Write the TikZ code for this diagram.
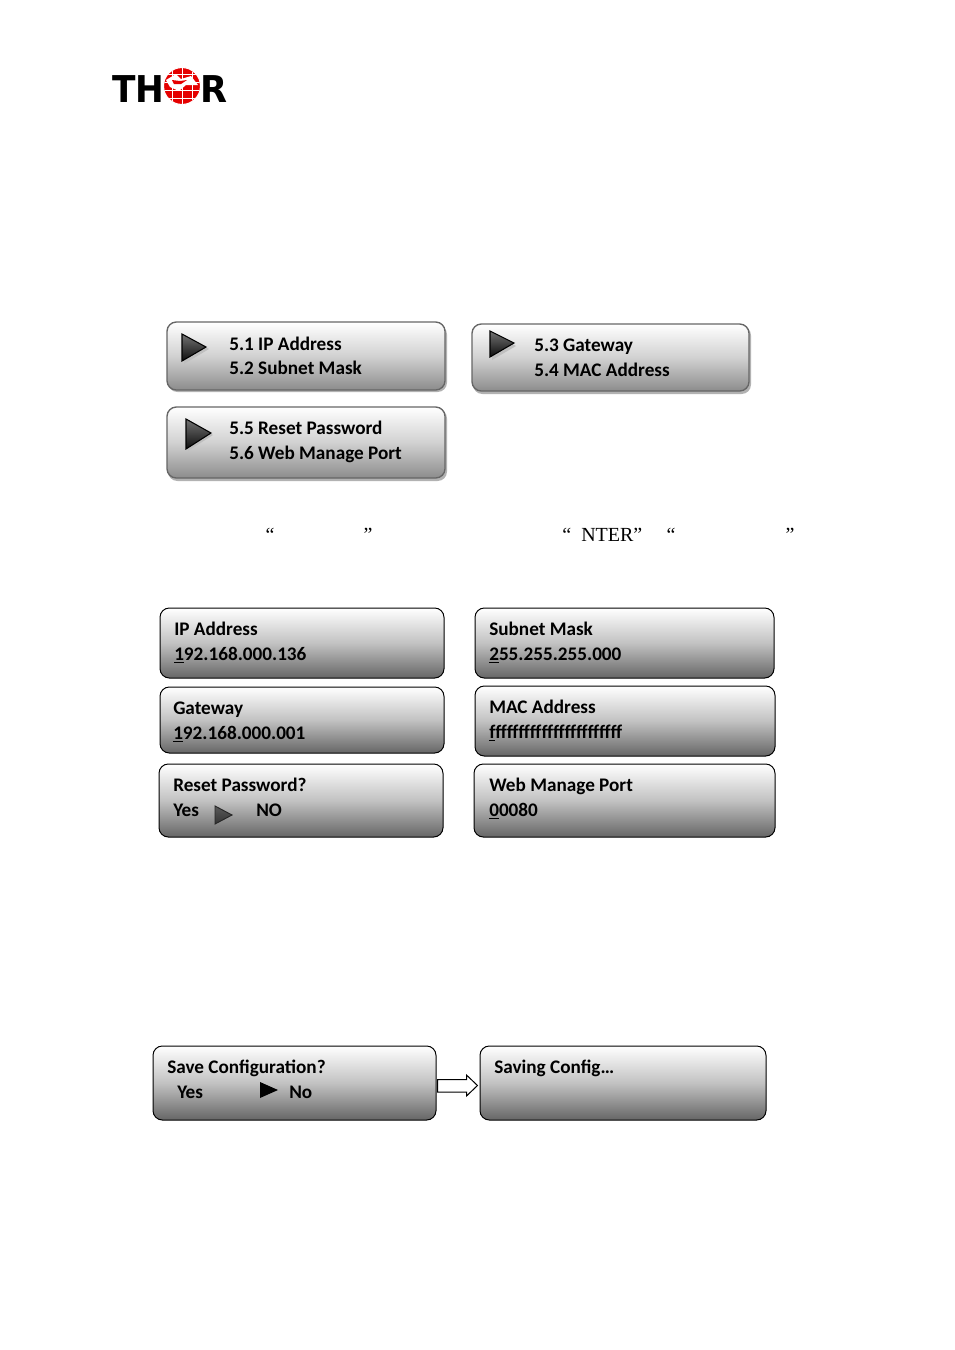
\documentclass[tikz,border=0pt]{standalone}
\usepackage{fontspec}
\setmainfont{Carlito}
\newfontfamily\serif{Liberation Serif}
\newfontfamily\logofont{DejaVu Sans}
\usetikzlibrary{calc}
\tikzset{
 x=0.75pt,y=-0.75pt,
 panel/.style={rectangle,rounded corners=7pt,draw=black,line width=0.75pt,top color=white,bottom color=black!60,middle color=black!24,inner sep=0pt},
 softpanel/.style={rectangle,rounded corners=7pt,draw=black!60,line width=1pt,top color=white,bottom color=black!45,middle color=black!18,inner sep=0pt},
 shadowbox/.style={rectangle,rounded corners=7pt,fill=black!30,draw=none,inner sep=0pt},
 txt/.style={anchor=base west,inner sep=0pt,font=\bfseries\fontsize{14.4pt}{16pt}\selectfont,text=black},
 quo/.style={anchor=base,inner sep=0pt,font=\serif\fontsize{15pt}{18pt}\selectfont,text=black},
 tri/.style={top color=black!55,bottom color=black!95,draw=black,line width=0.8pt},
 trishadow/.style={fill=black!25},
 logo/.style={inner sep=0pt,font=\logofont\bfseries\fontsize{27.7pt}{30pt}\selectfont},
}
\newcommand{\panelat}[6]{% name, x1, y1, x2, y2, style
 \node[#6,minimum width=#4*0.75pt-#2*0.75pt,minimum height=#5*0.75pt-#3*0.75pt] (#1) at ({(#2+#4)/2},{(#3+#5)/2}) {};}
\begin{document}
\begin{tikzpicture}
\useasboundingbox (0,0) rectangle (954,1350);
% logo
\node[logo,anchor=base west,xscale=0.93] (lt) at (112,102) {TH};
\node[logo,anchor=base west,xscale=0.95] (lr) at (200,102) {R};
\fill[red!90!black,draw=white,line width=0.8pt] (182,86) circle (18.5);
\begin{scope}
\clip (182,86) circle (18);
\foreach \dx in {-10,0,10} \draw[white,line width=0.4pt] (182+\dx,66) -- (182+\dx,106);
\foreach \dy in {-12,-4,4,12} \draw[white,line width=0.4pt] (162,86+\dy) -- (202,86+\dy);
\fill[white] (166,80) -- (176,74) -- (181,79) -- (191,76) -- (198,85) -- (186,85) -- (179,91) -- (170,87) -- cycle;
\fill[red!90!black] (172,80) -- (180,81) -- (187,80) -- (181,84) -- (174,84) -- cycle;
\end{scope}
% top menus
\panelat{sa}{168}{325}{447}{392}{shadowbox}
\panelat{a}{167}{322}{445}{390}{softpanel}
\panelat{sb}{473}{326}{751}{394}{shadowbox}
\panelat{b}{472}{324}{749}{391}{softpanel}
\panelat{sc}{168}{409}{447}{481}{shadowbox}
\panelat{c}{167}{407}{445}{478}{softpanel}
\fill[trishadow] (184,336) -- (209,349) -- (184,364) -- cycle;
\path[tri] (182,334) -- (206,347) -- (182,361) -- cycle;
\fill[trishadow] (492,333) -- (516,346) -- (492,360) -- cycle;
\path[tri] (490,331) -- (514,343) -- (490,357) -- cycle;
\fill[trishadow] (188,421) -- (213,435) -- (188,451) -- cycle;
\path[tri] (186,419) -- (211,433) -- (186,449) -- cycle;
\node[txt] (a1) at (229,350) {5.1 IP Address};
\node[txt] (a2) at (229,374) {5.2 Subnet Mask};
\node[txt] (b1) at (534,351) {5.3 Gateway};
\node[txt] (b2) at (534,376) {5.4 MAC Address};
\node[txt] (c1) at (229,434) {5.5 Reset Password};
\node[txt] (c2) at (229,459) {5.6 Web Manage Port};
% quotes line
\node[quo] (q1) at (270,541) {“};
\node[quo] (q2) at (368,541) {”};
\node[quo,anchor=base west] (q3) at (562,541) {“\hspace{7.6pt}NTER”};
\node[quo] (q4) at (671,541) {“};
\node[quo] (q5) at (790,541) {”};
% setting panels
\panelat{d}{160}{608}{444}{678}{panel}
\panelat{e}{475}{608}{774}{678}{panel}
\panelat{f}{160}{687}{444}{753}{panel}
\panelat{g}{475}{686}{775}{756}{panel}
\panelat{h}{159}{764}{443}{837}{panel}
\panelat{i}{474}{764}{775}{837}{panel}
\node[txt] (d1) at (174,635) {IP Address};
\node[txt] (d2) at (174,660) {\underline{1}92.168.000.136};
\node[txt] (e1) at (489,635) {Subnet Mask};
\node[txt] (e2) at (489,660) {\underline{2}55.255.255.000};
\node[txt] (f1) at (173,714) {Gateway};
\node[txt] (f2) at (173,739) {\underline{1}92.168.000.001};
\node[txt] (g1) at (489,713) {MAC Address};
\node[txt] (g2) at (489,738) {\underline{f}ffffffffffffffffffffff};
\node[txt] (h1) at (173,791) {Reset Password?};
\node[txt] (h2) at (173,816) {Yes};
\node[txt] (h3) at (256,816) {NO};
\path[top color=black!65,bottom color=black!80,draw=black!85,line width=0.7pt] (215,806) -- (232,815) -- (215,824) -- cycle;
\node[txt] (i1) at (489,791) {Web Manage Port};
\node[txt] (i2) at (489,816) {\underline{0}0080};
% save panels
\panelat{s}{153}{1046}{436}{1120}{panel}
\panelat{t}{480}{1046}{766}{1120}{panel}
\node[txt] (s1) at (167,1073) {Save Configuration?};
\node[txt] (s2) at (177,1098) {Yes};
\node[txt] (s3) at (289,1098) {No};
\fill[black] (260,1082) -- (278,1090) -- (260,1098) -- cycle;
\node[txt] (t1) at (494,1073) {Saving Config…};
\draw[fill=white,line width=0.75pt,line join=miter]
  ($(s.east)+(1,-3.5)$) -- ($(t.west)+(-13,-3.5)$) -- ($(t.west)+(-13,-8)$) -- ($(t.west)+(-2,2.5)$)
  -- ($(t.west)+(-13,13)$) -- ($(t.west)+(-13,9)$) -- ($(s.east)+(1,9)$) -- cycle;
\end{tikzpicture}
\end{document}
